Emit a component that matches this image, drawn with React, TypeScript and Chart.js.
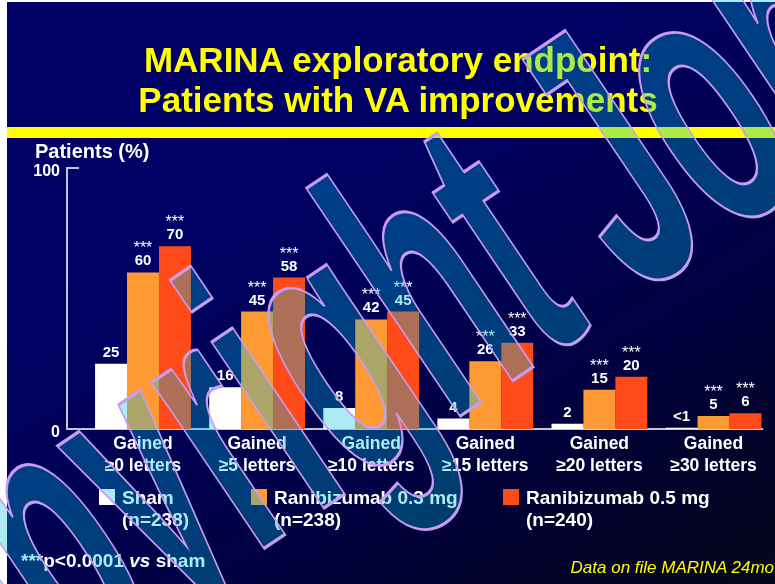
import React, { useEffect, useRef } from 'react';
import { Chart, registerables } from 'chart.js';

Chart.register(...registerables);

const FONT = "'Liberation Sans', Arial, Helvetica, sans-serif";

// ---- data ----
const categories: string[][] = [
  ['Gained', '≥0 letters'],
  ['Gained', '≥5 letters'],
  ['Gained', '≥10 letters'],
  ['Gained', '≥15 letters'],
  ['Gained', '≥20 letters'],
  ['Gained', '≥30 letters'],
];
const seriesNames = ['Sham', 'Ranibizumab 0.3 mg', 'Ranibizumab 0.5 mg'];
const seriesN = ['(n=238)', '(n=238)', '(n=240)'];
const shamValues = [25, 16, 8, 4, 2, 0.5];
const rbz03Values = [60, 45, 42, 26, 15, 5];
const rbz05Values = [70, 58, 45, 33, 20, 6];
const shamLabels = ['25', '16', '8', '4', '2', '<1'];
const rbz03Labels = ['60', '45', '42', '26', '15', '5'];
const rbz05Labels = ['70', '58', '45', '33', '20', '6'];
const seriesSignificant = [false, true, true];
const significanceMark = '***';
const yTickValues = [0, 100];

const seriesValues = [shamValues, rbz03Values, rbz05Values];
const seriesLabels = [shamLabels, rbz03Labels, rbz05Labels];
const seriesColors = ['#FFFFFF', '#FF9933', '#FF4B19'];
const AXIS = '#C4C4D4';

const barLabelPlugin = {
  id: 'barLabels',
  afterDatasetsDraw(chart: any) {
    const ctx = chart.ctx;
    ctx.save();
    ctx.textAlign = 'center';
    ctx.textBaseline = 'alphabetic';
    ctx.fillStyle = '#FFFFFF';
    chart.data.datasets.forEach((_ds: any, di: number) => {
      const meta = chart.getDatasetMeta(di);
      meta.data.forEach((bar: any, i: number) => {
        const { x, y } = bar.getProps(['x', 'y'], true);
        ctx.font = `bold 15px ${FONT}`;
        ctx.fillText(seriesLabels[di][i], x, y - 7);
        if (seriesSignificant[di]) {
          ctx.font = `16px ${FONT}`;
          ctx.fillText(significanceMark, x, y - 19);
        }
      });
    });
    ctx.restore();
  },
};

const topTickPlugin = {
  id: 'topTick',
  afterDraw(chart: any) {
    const ctx = chart.ctx;
    const yScale = chart.scales.y;
    const yTop = yScale.getPixelForValue(yTickValues[yTickValues.length - 1]);
    ctx.save();
    ctx.strokeStyle = AXIS;
    ctx.lineWidth = 2;
    ctx.beginPath();
    ctx.moveTo(chart.chartArea.left - 1, yTop);
    ctx.lineTo(chart.chartArea.left + 12, yTop);
    ctx.stroke();
    ctx.restore();
  },
};

function ChartCanvas() {
  const ref = useRef<HTMLCanvasElement | null>(null);
  useEffect(() => {
    if (!ref.current) return;
    const chart = new Chart(ref.current, {
      type: 'bar',
      data: {
        datasets: seriesNames.map((name, di) => ({
          label: name,
          data: seriesValues[di].map((v, i) => ({ x: i, y: v })),
          backgroundColor: seriesColors[di],
          borderWidth: 0,
          categoryPercentage: 0.84,
          barPercentage: 1,
        })),
      },
      options: {
        animation: false,
        responsive: false,
        maintainAspectRatio: false,
        layout: { padding: { left: 0, right: 13, top: 168, bottom: 105 } },
        plugins: {
          legend: { display: false },
          tooltip: { enabled: false },
          title: { display: false },
        },
        scales: {
          x: {
            type: 'linear',
            offset: false,
            min: -0.666,
            max: 5.425,
            afterBuildTicks: (s: any) => {
              s.ticks = categories.map((_c, i) => ({ value: i }));
            },
            afterFit: (s: any) => {
              s.height = 50;
            },
            grid: { display: false, drawTicks: false, offset: false },
            border: { display: true, color: AXIS, width: 2 },
            ticks: {
              color: '#FFFFFF',
              font: { family: FONT, size: 17.5, weight: 'bold', lineHeight: 1.25 },
              padding: 4,
              maxRotation: 0,
              autoSkip: false,
              callback: (_v: any, i: number) => categories[i],
            },
          },
          y: {
            min: 0,
            max: 100,
            afterBuildTicks: (s: any) => {
              s.ticks = yTickValues.map((v) => ({ value: v }));
            },
            afterFit: (s: any) => {
              s.width = 67;
            },
            grid: { display: false, drawTicks: false },
            border: { display: true, color: AXIS, width: 2 },
            ticks: {
              color: '#FFFFFF',
              font: { family: FONT, size: 16, weight: 'bold' },
              padding: 7,
              labelOffset: 4,
              callback: (v: any) => String(v),
            },
          },
        },
      } as any,
      plugins: [barLabelPlugin, topTickPlugin],
    });
    return () => chart.destroy();
  }, []);
  return (
    <canvas
      ref={ref}
      width={775}
      height={584}
      style={{ position: 'absolute', left: 0, top: 0, width: 775, height: 584 }}
    />
  );
}

const abs = (left: number, top: number, extra: React.CSSProperties = {}): React.CSSProperties => ({
  position: 'absolute',
  left,
  top,
  whiteSpace: 'nowrap',
  ...extra,
});

export default function App() {
  const legendX = [99, 251, 503];
  return (
    <div
      style={{
        position: 'fixed',
        left: 0,
        top: 0,
        width: 775,
        height: 584,
        overflow: 'hidden',
        background: '#FFFFFF',
        fontFamily: FONT,
      }}
    >
      <div
        style={{
          position: 'absolute',
          left: 7,
          top: 2,
          width: 768,
          height: 582,
          background:
            'linear-gradient(150deg, #000068 0%, #000064 35%, #00004a 62%, #02022e 82%, #06061a 100%)',
        }}
      />
      <ChartCanvas />
      <div
        style={abs(0, 40, {
          width: 796,
          textAlign: 'center',
          color: '#FFFF00',
          fontWeight: 'bold',
          fontSize: 35,
          lineHeight: '40px',
        })}
      >
        MARINA exploratory endpoint:
        <br />
        Patients with VA improvements
      </div>
      <div style={abs(7, 127, { width: 768, height: 11, background: '#FFFF00' })} />
      <div style={abs(35, 141, { color: '#FFFFFF', fontWeight: 'bold', fontSize: 20, lineHeight: '20px' })}>
        Patients (%)
      </div>
      {seriesNames.map((name, i) => (
        <React.Fragment key={name}>
          <div
            style={abs(legendX[i], 489, {
              width: 16,
              height: 16,
              background: seriesColors[i],
            })}
          />
          <div
            style={abs(legendX[i] + 23, 488, {
              color: '#FFFFFF',
              fontWeight: 'bold',
              fontSize: 19,
              lineHeight: '19px',
            })}
          >
            {name}
          </div>
          <div
            style={abs(legendX[i] + 23, 510, {
              color: '#FFFFFF',
              fontWeight: 'bold',
              fontSize: 19,
              lineHeight: '19px',
            })}
          >
            {seriesN[i]}
          </div>
        </React.Fragment>
      ))}
      <div style={abs(21, 551, { color: '#FFFFFF', fontWeight: 'bold', fontSize: 19, lineHeight: '19px' })}>
        {significanceMark}p&lt;0.0001 <i>vs</i> sham
      </div>
      <div
        style={abs(0, 559, {
          width: 774,
          textAlign: 'right',
          color: '#FFFF00',
          fontStyle: 'italic',
          fontSize: 17,
          lineHeight: '17px',
        })}
      >
        Data on file MARINA 24mo
      </div>
      <div
        style={abs(-129, 659, {
          fontWeight: 'bold',
          fontSize: 185,
          lineHeight: '185px',
          color: 'rgba(0, 190, 225, 0.32)',
          WebkitTextStroke: '1.6px #C99CF2',
          transformOrigin: '0 157px',
          transform: 'rotate(-34deg) scaleY(2.05)',
          pointerEvents: 'none',
        } as React.CSSProperties)}
      >
        Copyright John
      </div>
    </div>
  );
}
